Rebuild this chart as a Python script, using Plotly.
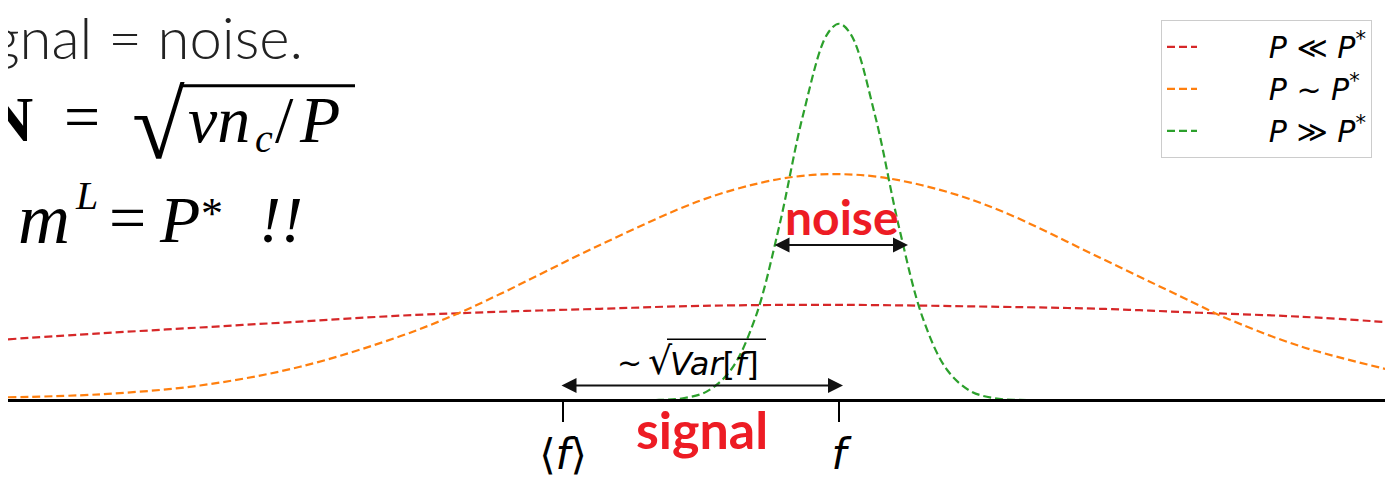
"""Signal vs noise sketch: spread of f for three sample sizes P."""

import plotly.graph_objects as go

# Curve samples (x in px from left, height in px above the axis)
RED_X = [8, 100, 200, 300, 400, 500, 600, 700, 840, 1000, 1100, 1200, 1300, 1393]
RED_Y = [62, 68, 74, 80, 86, 90, 93, 96, 97, 95, 93, 89, 85, 79]

ORANGE_X = [8, 100, 200, 300, 400, 455, 500, 600, 700, 760, 800, 837, 880, 940,
            1000, 1100, 1200, 1225, 1300, 1393]
ORANGE_Y = [3, 6, 15, 34, 65, 87, 108, 158, 203, 221, 228, 230, 227, 214,
            193, 145, 96, 84, 55, 30]

GREEN_X = [8, 600, 659, 683, 707, 731, 755, 779, 803, 827, 839, 851, 875, 899,
           923, 947, 971, 995, 1019, 1080, 1393]
GREEN_Y = [0, 0, 0.3, 2, 9, 31, 83, 176, 290, 372, 383, 372, 290, 176,
           83, 31, 9, 2, 0.3, 0, 0]

PAD = "\u00a0" * 7
SERIES_NAMES = [
    PAD + "<i>P</i> ≪ <i>P</i><sup>*</sup>",
    PAD + "<i>P</i> ~ <i>P</i><sup>*</sup>",
    PAD + "<i>P</i> ≫ <i>P</i><sup>*</sup>",
]
SERIES_COLORS = ["#d62728", "#ff7f0e", "#2ca02c"]

TICK_VALS = [563, 839]
TICK_TEXT = ["⟨<i>f</i>⟩", "<i>f</i>"]

WIN_W, WIN_H = 1393, 479
PAGE_PAD = 8  # the html body margin shifts the figure by this much
W, H = WIN_W - PAGE_PAD, WIN_H - PAGE_PAD
AXIS_PX = 407  # window pixel row of the horizontal axis
RED_TEXT = "#ed1c24"
MATH = "Liberation Serif"

fig = go.Figure()
for i, (xs, ys) in enumerate([(RED_X, RED_Y), (ORANGE_X, ORANGE_Y), (GREEN_X, GREEN_Y)]):
    fig.add_trace(
        go.Scatter(
            x=xs,
            y=ys,
            mode="lines",
            name=SERIES_NAMES[i],
            legendgroup=f"g{i}",
            line=dict(color=SERIES_COLORS[i], width=2.2, dash="8px,4px", shape="spline"),
            hoverinfo="skip",
        )
    )


def py(pixel_y):
    """Window pixel row -> y data value."""
    return AXIS_PX - pixel_y


def txt(x, y, text, size, family=MATH, anchor="center", **kw):
    font = dict(family=family, size=size, color=kw.pop("color", "black"))
    if "weight" in kw:
        font["weight"] = kw.pop("weight")
    return dict(x=x, y=py(y), text=text, xanchor=anchor, font=font, **kw)


annotations = [
    # top-left slide text
    txt(305, 37, "gnal = noise.", 58, family="Lato", anchor="right", weight=300, color="#222"),
    # row 2:  N = sqrt(v n_c / P)
    txt(35, 121, "<b>N</b>", 64, anchor="right"),
    txt(82, 118, "=", 64),
    txt(158, 128, "√", 96),
    txt(186, 121, "<i>vn</i>", 66, anchor="left"),
    txt(264, 141, "<i>c</i>", 40),
    txt(284, 121, "/", 66),
    txt(297, 121, "<i>P</i>", 66, anchor="left"),
    # row 3:  m^L = P*  !!
    txt(72, 223, "<i>m</i>", 72, anchor="right"),
    txt(86, 199, "<i>L</i>", 40),
    txt(127, 221, "=", 66),
    txt(157, 223, "<i>P</i>", 66, anchor="left"),
    txt(212, 217, "*", 44),
    txt(281, 223, "<i>!!</i>", 66),
    # red labels
    txt(702, 436, "<b>signal</b>", 52, family="Lato", color=RED_TEXT),
    txt(842, 220, "<b>noise</b>", 48, family="Lato", color=RED_TEXT),
    # width label
    txt(629, 369, "~", 30, family="DejaVu Sans"),
    txt(660, 367, "√", 38, family="DejaVu Sans"),
    txt(668, 370, "<i>Var</i>[<i>f</i>]", 32, family="DejaVu Sans", anchor="left"),
    # double arrows
    dict(x=843, y=py(392), ax=560, ay=py(392), axref="x", ayref="y", text="",
         showarrow=True, arrowside="end+start", arrowhead=2, startarrowhead=2,
         arrowsize=1.5, startarrowsize=1.5, arrowwidth=2, arrowcolor="#111"),
    dict(x=908, y=py(249), ax=773, ay=py(249), axref="x", ayref="y", text="",
         showarrow=True, arrowside="end+start", arrowhead=2, startarrowhead=2,
         arrowsize=1.5, startarrowsize=1.5, arrowwidth=2, arrowcolor="#111"),
]
for a in annotations:
    a.setdefault("showarrow", False)
    a.setdefault("xref", "x")
    a.setdefault("yref", "y")

shapes = [
    # radical overlines
    dict(type="line", xref="x", yref="y", x0=182, x1=355, y0=py(87), y1=py(87),
         line=dict(color="black", width=3)),
    dict(type="line", xref="x", yref="y", x0=667, x1=766, y0=py(345), y1=py(345),
         line=dict(color="black", width=1.5)),
]

fig.update_layout(
    width=W,
    height=H,
    margin=dict(l=0, r=0, t=0, b=0),
    paper_bgcolor="white",
    plot_bgcolor="white",
    showlegend=True,
    legend=dict(
        x=(1161 - PAGE_PAD) / W,
        y=1 - (20 - PAGE_PAD) / H,
        xanchor="left",
        yanchor="top",
        bgcolor="white",
        bordercolor="#cccccc",
        borderwidth=1,
        font=dict(family="DejaVu Sans", size=30, color="black"),
        traceorder="grouped",
        tracegroupgap=0,
    ),
    annotations=annotations,
    shapes=shapes,
    xaxis=dict(
        range=[PAGE_PAD, WIN_W],
        domain=[0, 1],
        anchor="free",
        position=(WIN_H - AXIS_PX) / H,
        showline=True,
        linecolor="black",
        linewidth=3,
        ticks="outside",
        ticklen=20,
        tickwidth=2,
        tickcolor="black",
        tickvals=TICK_VALS,
        ticktext=TICK_TEXT,
        tickfont=dict(family="DejaVu Sans", size=42, color="black"),
        ticklabelstandoff=-4,
        showgrid=False,
        zeroline=False,
        fixedrange=True,
    ),
    yaxis=dict(range=[AXIS_PX - WIN_H, AXIS_PX - PAGE_PAD], visible=False, fixedrange=True),
)

fig.write_html("out.html")
